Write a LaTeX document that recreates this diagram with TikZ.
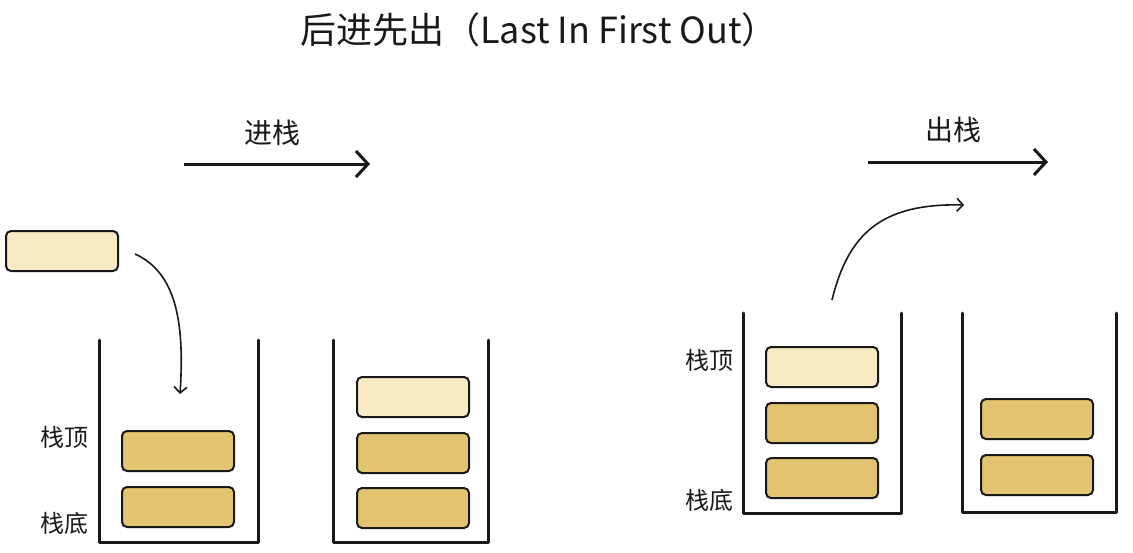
\documentclass[tikz,border=0pt]{standalone}
\usepackage{fontspec}
\setmainfont{Noto Sans CJK SC}
\usetikzlibrary{arrows.meta}
\definecolor{gold}{RGB}{226,196,112}
\definecolor{lightgold}{RGB}{248,235,196}
\definecolor{ink}{RGB}{25,25,25}
\tikzset{
  item/.style={draw=ink, line width=2pt, rounded corners=5pt, minimum width=112pt, minimum height=40pt, inner sep=0pt, fill=gold},
  newitem/.style={item, fill=lightgold},
  wall/.style={draw=ink, line width=3pt, line cap=round, line join=round},
  bigarrow/.style={draw=ink, line width=3pt, -{Straight Barb[length=12pt,width=26pt,line width=3pt]}},
  thinarrow/.style={draw=ink, line width=1.6pt, -{Straight Barb[length=6pt,width=13pt,line width=1.6pt]}},
  lbl/.style={font=\fontsize{24}{28}\selectfont, text=ink, inner sep=0pt},
  oplbl/.style={font=\fontsize{28}{32}\selectfont, text=ink, inner sep=0pt},
}
\begin{document}
\begin{tikzpicture}[x=1pt,y=-1pt]
\useasboundingbox (0,0) rectangle (1133,552);
\fill[white] (0,0) rectangle (1133,552);

% title
\node[font=\fontsize{36}{42}\selectfont, text=ink, inner sep=0pt] (title) at (539,30) {后进先出（Last In First Out）};

% operation arrows
\coordinate (pushA) at (184,164);
\coordinate (pushB) at (370,164);
\draw[bigarrow] (pushA) -- (pushB);
\node[oplbl] (pushlbl) at (272,133) {进栈};
\coordinate (popA) at (868,162);
\coordinate (popB) at (1048,162);
\draw[bigarrow] (popA) -- (popB);
\node[oplbl] (poplbl) at (953,130) {出栈};

% stack 1
\draw[wall] (99,340) -- (99,542) -- (258,542) -- (258,340);
\node[item] (s1b1) at (178,507) {};
\node[item] (s1b2) at (178,451) {};
\node[lbl] (s1top) at (64,437) {栈顶};
\node[lbl] (s1bot) at (64,523) {栈底};
\node[newitem] (float) at (62,251) {};
\coordinate (c1s) at (135,254);
\coordinate (c1e) at (180,394);
\draw[thinarrow] (c1s) .. controls (175,272) and (185,320) .. (c1e);

% stack 2
\draw[wall] (333,340) -- (333,542) -- (488,542) -- (488,340);
\node[item] (s2b1) at (413,508) {};
\node[item] (s2b2) at (413,453) {};
\node[newitem] (s2b3) at (413,397) {};

% stack 3
\draw[wall] (743,313) -- (743,513) -- (901,513) -- (901,313);
\node[item] (s3b1) at (822,478) {};
\node[item] (s3b2) at (822,423) {};
\node[newitem] (s3b3) at (822,367) {};
\node[lbl] (s3top) at (709,360) {栈顶};
\node[lbl] (s3bot) at (709,500) {栈底};
\coordinate (c2s) at (832,300);
\coordinate (c2e) at (964,205);
\draw[thinarrow] (c2s) .. controls (848,235) and (880,203) .. (c2e);

% stack 4
\draw[wall] (962,313) -- (962,512) -- (1116,512) -- (1116,313);
\node[item] (s4b1) at (1037,475) {};
\node[item] (s4b2) at (1037,419) {};
\end{tikzpicture}
\end{document}
